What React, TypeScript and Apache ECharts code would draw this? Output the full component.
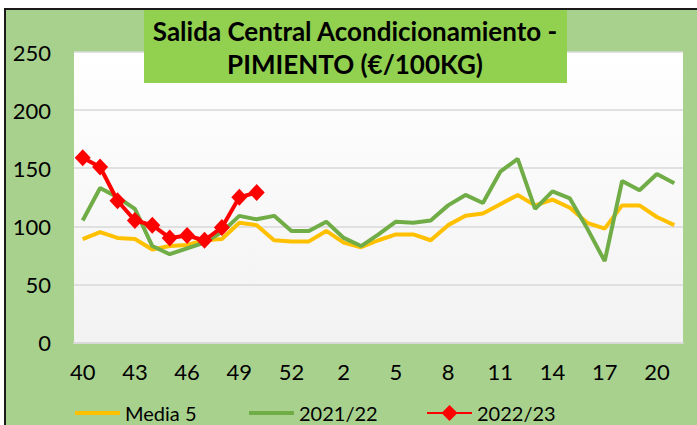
import React, { useEffect, useRef } from "react";
import * as echarts from "echarts";

const weeks = [
  "40", "41", "42", "43", "44", "45", "46", "47", "48", "49", "50", "51", "52", "53",
  "1", "2", "3", "4", "5", "6", "7", "8", "9", "10", "11", "12", "13", "14", "15",
  "16", "17", "18", "19", "20", "21",
];

const media5 = [
  89, 95, 90, 89, 80, 83, 84, 88, 89, 103, 101, 88, 87, 87, 96, 86, 82, 88, 93, 93,
  88, 101, 109, 111, 119, 127, 118, 123, 116, 103, 98, 118, 118, 108, 101,
];

const season2122 = [
  105, 133, 125, 115, 83, 76, 81, 86, 95, 109, 106, 109, 96, 96, 104, 90, 83, 93, 104, 103,
  105, 118, 127, 120, 147, 158, 115, 130, 124, 98, 70, 139, 131, 145, 137,
];

const season2223 = [159, 151, 122, 105, 101, 90, 92, 88, 99, 125, 129];

const seriesNames = ["Media 5", "2021/22", "2022/23"];
const titleLines = ["Salida Central Acondicionamiento -", "PIMIENTO (€/100KG)"];

const FONT = "Lato, 'Open Sans', sans-serif";

export default function App() {
  const ref = useRef<HTMLDivElement>(null);

  useEffect(() => {
    if (!ref.current) return;
    const chart = echarts.init(ref.current, undefined, { renderer: "svg" });
    const legendText = { fontSize: 20, color: "#000", fontFamily: FONT };
    const titleStyle = {
      fontSize: 26,
      fontWeight: "bold",
      fontFamily: FONT,
      fill: "#000",
      align: "center",
      verticalAlign: "middle",
    };
    chart.setOption({
      animation: false,
      backgroundColor: "#a9d18e",
      textStyle: { fontFamily: FONT },
      grid: {
        left: 74,
        right: 14,
        top: 52,
        bottom: 82.5,
        show: true,
        borderWidth: 0,
        backgroundColor: new echarts.graphic.LinearGradient(0, 0, 0, 1, [
          { offset: 0, color: "#ffffff" },
          { offset: 1, color: "#f2f2f2" },
        ]),
      },
      xAxis: {
        type: "category",
        data: weeks,
        boundaryGap: true,
        axisLine: { lineStyle: { color: "#d9d9d9", width: 2 } },
        axisTick: { show: false },
        axisLabel: { interval: 2, color: "#000", fontSize: 22, margin: 18, fontFamily: FONT },
      },
      yAxis: {
        type: "value",
        min: 0,
        max: 250,
        interval: 50,
        axisLine: { show: false },
        axisTick: { show: false },
        splitLine: { lineStyle: { color: "#d9d9d9", width: 1.5 } },
        axisLabel: { color: "#000", fontSize: 22, margin: 23, fontFamily: FONT },
      },
      legend: [
        {
          data: [{ name: seriesNames[0], icon: "rect" }],
          left: 70,
          top: 398,
          itemWidth: 45,
          itemHeight: 4,
          textStyle: legendText,
        },
        {
          data: [{ name: seriesNames[1], icon: "rect" }],
          left: 244,
          top: 398,
          itemWidth: 45,
          itemHeight: 4,
          textStyle: legendText,
        },
        {
          data: [seriesNames[2]],
          left: 421,
          top: 398,
          itemWidth: 45,
          itemHeight: 20,
          textStyle: legendText,
        },
      ],
      graphic: [
        { type: "rect", z: 100, shape: { x: 0, y: 0, width: 697, height: 8 }, style: { fill: "#fff" } },
        { type: "rect", z: 100, shape: { x: 0, y: 0, width: 4, height: 425 }, style: { fill: "#fff" } },
        { type: "rect", z: 100, shape: { x: 4, y: 8, width: 693, height: 2 }, style: { fill: "#1a1a1a" } },
        { type: "rect", z: 100, shape: { x: 4, y: 8, width: 2, height: 417 }, style: { fill: "#1a1a1a" } },
        { type: "rect", z: 100, shape: { x: 144, y: 10, width: 423, height: 73 }, style: { fill: "#92d050" } },
        { type: "text", z: 101, x: 355, y: 31, style: { ...titleStyle, text: titleLines[0] } },
        { type: "text", z: 101, x: 355, y: 64, style: { ...titleStyle, text: titleLines[1] } },
      ],
      series: [
        {
          name: seriesNames[0],
          type: "line",
          data: media5,
          symbol: "none",
          lineStyle: { color: "#ffc000", width: 4 },
          itemStyle: { color: "#ffc000" },
        },
        {
          name: seriesNames[1],
          type: "line",
          data: season2122,
          symbol: "none",
          lineStyle: { color: "#70ad47", width: 4 },
          itemStyle: { color: "#70ad47" },
        },
        {
          name: seriesNames[2],
          type: "line",
          data: season2223,
          symbol: "diamond",
          symbolSize: [16, 17],
          showAllSymbol: true,
          lineStyle: { color: "#ff0000", width: 4 },
          itemStyle: { color: "#ff0000" },
        },
      ],
    });
    return () => chart.dispose();
  }, []);

  return (
    <div
      ref={ref}
      style={{ position: "fixed", left: 0, top: 0, width: 697, height: 425, background: "#fff" }}
    />
  );
}
